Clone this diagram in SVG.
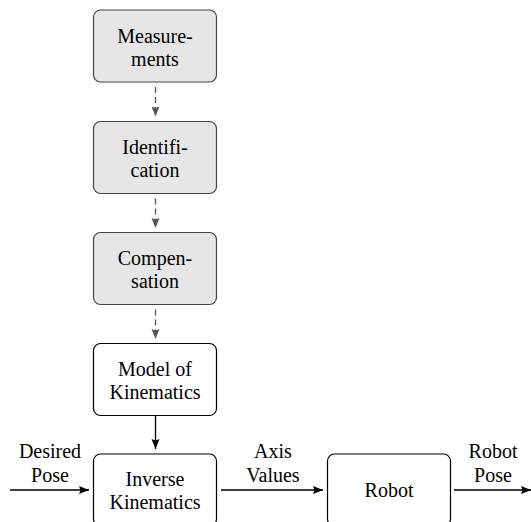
<svg xmlns="http://www.w3.org/2000/svg" width="531" height="522" viewBox="0 0 531 522">
<style>
.box{fill:#fff;stroke:#000;stroke-width:1.2}
.gbox{fill:#e6e6e6;stroke:#444;stroke-width:1.2}
.dash{stroke:#555;stroke-width:1.3;stroke-dasharray:6 4;fill:none}
.solid{stroke:#000;stroke-width:1.3;fill:none}
</style>
<defs>
<marker id="ag" markerUnits="userSpaceOnUse" markerWidth="10" markerHeight="10" refX="10" refY="4" orient="auto" viewBox="0 0 10 8">
<path d="M0,0 L10,4 L0,8 L1.5,4 Z" fill="#555"/>
</marker>
<marker id="ab" markerUnits="userSpaceOnUse" markerWidth="10" markerHeight="10" refX="10" refY="4" orient="auto" viewBox="0 0 10 8">
<path d="M0,0 L10,4 L0,8 L1.5,4 Z" fill="#000"/>
</marker>
</defs>
<g id="measurements">
<rect class="gbox" x="93.5" y="10" width="123" height="72" rx="7"/>
<text style="font-family:'Liberation Serif',serif;font-size:20px" text-anchor="middle" x="155" y="42.5">Measure-</text>
<text style="font-family:'Liberation Serif',serif;font-size:20px" text-anchor="middle" x="155" y="65.5">ments</text>
</g>
<g id="identification">
<rect class="gbox" x="93.5" y="121.5" width="123" height="72" rx="7"/>
<text style="font-family:'Liberation Serif',serif;font-size:20px" text-anchor="middle" x="155" y="153.5">Identifi-</text>
<text style="font-family:'Liberation Serif',serif;font-size:20px" text-anchor="middle" x="155" y="176.5">cation</text>
</g>
<g id="compensation">
<rect class="gbox" x="93.5" y="232.5" width="123" height="72" rx="7"/>
<text style="font-family:'Liberation Serif',serif;font-size:20px" text-anchor="middle" x="155" y="264.5">Compen-</text>
<text style="font-family:'Liberation Serif',serif;font-size:20px" text-anchor="middle" x="155" y="287.5">sation</text>
</g>
<g id="model">
<rect class="box" x="93.5" y="343.5" width="123" height="72" rx="7"/>
<text style="font-family:'Liberation Serif',serif;font-size:20px" text-anchor="middle" x="155" y="375.5">Model of</text>
<text style="font-family:'Liberation Serif',serif;font-size:20px" text-anchor="middle" x="155" y="398.5">Kinematics</text>
</g>
<g id="inverse">
<rect class="box" x="93.5" y="454" width="123" height="72" rx="7"/>
<text style="font-family:'Liberation Serif',serif;font-size:20px" text-anchor="middle" x="155" y="486">Inverse</text>
<text style="font-family:'Liberation Serif',serif;font-size:20px" text-anchor="middle" x="155" y="509">Kinematics</text>
</g>
<g id="robot">
<rect class="box" x="327.5" y="454" width="123" height="72" rx="7"/>
<text style="font-family:'Liberation Serif',serif;font-size:20px" text-anchor="middle" x="389" y="497">Robot</text>
</g>
<g id="connectors">
<line class="dash" x1="155.5" y1="87" x2="155.5" y2="116.5" marker-end="url(#ag)"/>
<line class="dash" x1="155.5" y1="198.5" x2="155.5" y2="228" marker-end="url(#ag)"/>
<line class="dash" x1="155.5" y1="309.5" x2="155.5" y2="339" marker-end="url(#ag)"/>
<line class="solid" x1="155.5" y1="415.5" x2="155.5" y2="449" marker-end="url(#ab)"/>
<line class="solid" x1="10" y1="490" x2="89" y2="490" marker-end="url(#ab)"/>
<line class="solid" x1="221" y1="490" x2="323" y2="490" marker-end="url(#ab)"/>
<line class="solid" x1="454" y1="490" x2="531" y2="490" marker-end="url(#ab)"/>
<text style="font-family:'Liberation Serif',serif;font-size:20px" text-anchor="middle" x="50" y="458">Desired</text>
<text style="font-family:'Liberation Serif',serif;font-size:20px" text-anchor="middle" x="50" y="482">Pose</text>
<text style="font-family:'Liberation Serif',serif;font-size:20px" text-anchor="middle" x="273" y="458">Axis</text>
<text style="font-family:'Liberation Serif',serif;font-size:20px" text-anchor="middle" x="273" y="482">Values</text>
<text style="font-family:'Liberation Serif',serif;font-size:20px" text-anchor="middle" x="493" y="458">Robot</text>
<text style="font-family:'Liberation Serif',serif;font-size:20px" text-anchor="middle" x="493" y="482">Pose</text>
</g>
</svg>
